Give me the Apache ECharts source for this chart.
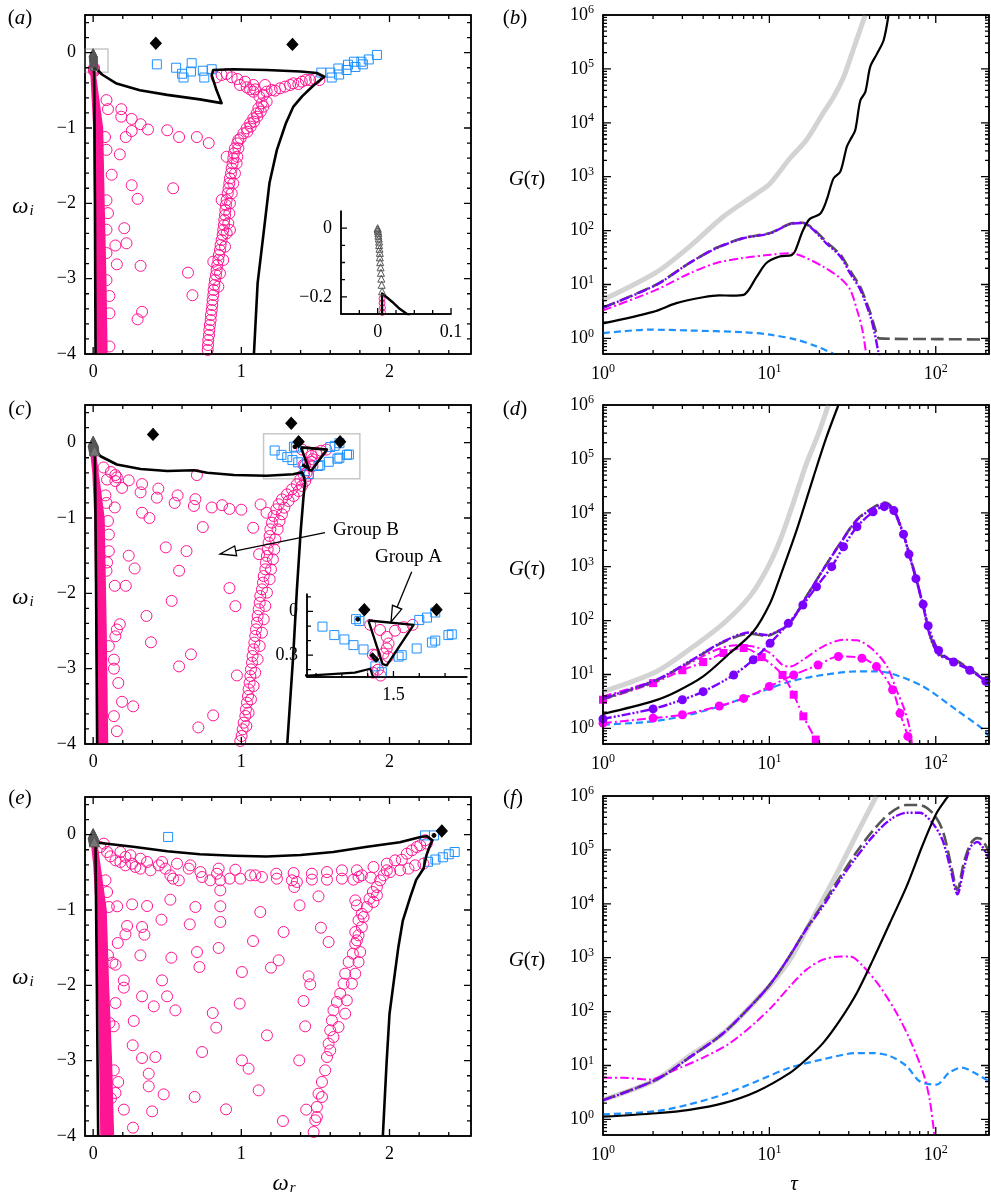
<!DOCTYPE html>
<html><head><meta charset="utf-8">
<script src="https://cdn.jsdelivr.net/npm/echarts@6/dist/echarts.min.js"></script>
<style>html,body{margin:0;padding:0;background:#fff}#c{width:991px;height:1197px}</style>
</head><body><div id="c"></div>
<script>
// ===================== DATA =====================
// ---- ticks ----
const sXMajor=[0,1,2], sXMinor=[0.2,0.4,0.6,0.8,1.2,1.4,1.6,1.8,2.2,2.4];
const sYMajor=[-4,-3,-2,-1,0], sYMinor=[-3.8,-3.6,-3.4,-3.2,-2.8,-2.6,-2.4,-2.2,-1.8,-1.6,-1.4,-1.2,-0.8,-0.6,-0.4,-0.2,0.2,0.4];
const tauMajor=[1,10,100], tauMinor=[2,3,4,5,6,7,8,9,20,30,40,50,60,70,80,90,200];
const gMajor=[1,10,100,1e3,1e4,1e5,1e6];
const gMinor=[0.6,0.7,0.8,0.9,2,3,4,5,6,7,8,9,20,30,40,50,60,70,80,90,200,300,400,500,600,700,800,900,2e3,3e3,4e3,5e3,6e3,7e3,8e3,9e3,2e4,3e4,4e4,5e4,6e4,7e4,8e4,9e4,2e5,3e5,4e5,5e5,6e5,7e5,8e5,9e5];

// ---- panel (a) ----
const pinkA=[[0.09,-0.63],[0.10,-0.75],[0.19,-0.75],[0.19,-0.85],[0.26,-0.88],[0.32,-0.95],[0.37,-1.02],[0.26,-1.04],[0.22,-1.12],[0.08,-1.12],[0.09,-1.29],[0.18,-1.35],[0.125,-1.62],[0.26,-1.76],[0.54,-1.80],[0.09,-1.96],[0.30,-1.94],[0.10,-2.13],[0.09,-2.35],[0.21,-2.33],[0.15,-2.56],[0.225,-2.53],[0.09,-2.66],[0.16,-2.81],[0.32,-2.83],[0.09,-3.02],[0.64,-2.92],[0.67,-3.22],[0.11,-3.23],[0.11,-3.46],[0.33,-3.44],[0.30,-3.54],[0.11,-3.9],[0.50,-1.03],[0.58,-1.12],[0.70,-1.12],[0.78,-1.2],
[0.901,-0.283],[0.973,-0.350],[1.025,-0.385],[1.081,-0.429],[1.092,-0.487],[1.160,-0.429],[1.081,-0.518],[1.122,-0.584],[1.171,-0.518],[1.205,-0.496],[1.227,-0.504],[1.261,-0.473],[1.295,-0.451],[1.329,-0.429],[1.351,-0.407],[1.385,-0.416],[1.408,-0.385],[1.435,-0.363],[1.464,-0.363],[1.498,-0.350],[1.527,-0.363],[0.833,-0.327],[0.867,-0.296],[0.935,-0.327],[1.036,-0.460],[0.991,-0.429],[1.059,-0.487],[1.149,-0.562]];
const pinkABand=[[1.137,-0.673],[1.115,-0.739],[1.104,-0.805],[1.081,-0.872],[1.059,-0.938],[1.036,-1.004],[1.014,-1.071],[0.995,-1.137],[0.973,-1.204],[0.957,-1.270],[0.950,-1.336],[0.946,-1.403],[0.941,-1.469],[0.935,-1.535],[0.930,-1.602],[0.923,-1.668],[0.919,-1.735],[0.914,-1.801],[0.908,-1.867],[0.901,-1.956],[0.896,-2.022],[0.892,-2.088],[0.890,-2.155],[0.885,-2.221],[0.883,-2.288],[0.878,-2.354],[0.874,-2.420],[0.867,-2.487],[0.860,-2.553],[0.856,-2.619],[0.849,-2.686],[0.845,-2.752],[0.838,-2.819],[0.833,-2.885],[0.829,-2.951],[0.822,-3.018],[0.818,-3.084],[0.813,-3.150],[0.811,-3.217],[0.806,-3.283],[0.804,-3.350],[0.800,-3.416],[0.795,-3.482],[0.793,-3.549],[0.788,-3.615],[0.784,-3.681],[0.782,-3.748],[0.777,-3.814],[0.775,-3.881],[0.773,-3.947],
[1.171,-0.650],[1.149,-0.717],[1.131,-0.783],[1.108,-0.850],[1.086,-0.916],[1.063,-0.982],[1.041,-1.049],[0.980,-1.159],[0.980,-1.270],[0.973,-1.381],[0.968,-1.469],[0.957,-1.602],[0.946,-1.735],[0.935,-1.867],[0.923,-2.000],[0.919,-2.133],[0.912,-2.265],[0.901,-2.398],[0.890,-2.575],[0.878,-2.752],[0.856,-2.929],[0.845,-3.106],[0.901,-1.381],[0.867,-1.956],[0.923,-2.354],[0.811,-2.774]];
const pinkATop=[[0.006,-0.205],[0.006,-0.218],[0.0065,-0.232],[0.0065,-0.245]];
const bandA=[[-0.02,-0.24],[0.016,-0.24],[0.068,-1],[0.078,-2],[0.09,-3],[0.098,-4],[0.018,-4],[0.0,-1]];
const triA=[[0.0,0.0],[0.0,-0.004],[0.0005,-0.009],[0.001,-0.015],[0.001,-0.022],[0.0015,-0.03],[0.002,-0.039],[0.002,-0.049],[0.0025,-0.06],[0.003,-0.072],[0.003,-0.085],[0.0035,-0.099],[0.004,-0.114],[0.0045,-0.13],[0.005,-0.147],[0.0055,-0.165],[0.006,-0.184]];
const blueA=[[0.43,-0.155],[0.56,-0.2],[0.60,-0.28],[0.61,-0.33],[0.665,-0.14],[0.66,-0.25],[0.74,-0.24],[0.75,-0.33],[0.80,-0.22],[1.54,-0.265],[1.60,-0.265],[1.61,-0.33],[1.655,-0.21],[1.66,-0.29],[1.71,-0.23],[1.72,-0.16],[1.76,-0.12],[1.77,-0.19],[1.81,-0.12],[1.82,-0.155],[1.86,-0.09],[1.915,-0.03]];
const diamA=[[0.423,0.124],[1.345,0.11]];
const contourA=[[0.016,-4],[0.012,-2],[0.008,-0.6],[0.006,-0.25],[0.006,-0.19],[0.02,-0.215],[0.03,-0.235],[0.04,-0.25],[0.06,-0.29],[0.158,-0.41],[0.315,-0.5],[0.5,-0.56],[0.72,-0.62],[0.867,-0.67],[0.833,-0.5],[0.81,-0.36],[0.80,-0.3],[0.81,-0.23],[0.946,-0.22],[1.17,-0.23],[1.40,-0.25],[1.51,-0.27],[1.56,-0.32],[1.49,-0.43],[1.41,-0.58],[1.35,-0.72],[1.30,-0.94],[1.24,-1.29],[1.19,-1.73],[1.15,-2.4],[1.11,-3.06],[1.085,-4]];
const boxA=[[-0.055,0.05],[0.1,-0.26]];

// ---- panel (b) ----
const grayB=[[1,5.2],[2.1,17],[3.3,50],[5.3,182],[8.4,490],[10.1,750],[13.3,2200],[16.7,4800],[21,1.5e4],[24.3,3e4],[27.9,7e4],[30.6,1.55e5],[33.6,3.6e5],[37.7,1e6]];
const blackB=[[1,1.9],[2,3.1],[2.76,4.5],[4,5.8],[5,6.3],[6,6.2],[7,6.4],[8.4,14],[9.6,25],[11.5,33],[13.6,35],[14.3,42],[15.9,100],[17.5,165],[20.2,205],[22.1,370],[24.3,930],[26.7,1240],[29.2,3600],[30.6,4800],[32.8,7300],[35.2,2.6e4],[37.7,3.7e4],[40.4,1.1e5],[44.3,1.9e5],[48.6,3.4e5],[52,1e6]];
const purpleB=[[1,3.7],[2.1,9.9],[3.3,25],[4.8,47],[6.95,72],[10.1,89],[13.3,132],[15.9,138],[18.4,103],[22,58],[26.7,33],[30.6,16],[35.2,8],[40.4,2.6],[42.9,1.26],[45,0.6],[46.3,0.45]];
const dashB=[[1,3.7],[2.1,10],[3.3,25],[4.8,48],[6.95,73],[10.1,90],[13.3,134],[15.9,140],[18.4,108],[22,62],[26.7,36],[30.6,18],[35.2,9],[40.4,3],[43.5,1.4],[45.5,1.0],[100,0.97],[208,0.95]];
const magB=[[1,3.3],[2.1,8],[3.3,16],[4.8,25],[6.95,31],[10.1,35.5],[13.3,38],[15.9,33],[21,21.5],[26.7,13],[30.6,8],[33.6,3.4],[36.2,1.45],[38.2,0.5]];
const blueB=[[1,1.25],[1.9,1.45],[3.3,1.4],[6.95,1.3],[10.1,1.17],[14.5,0.95],[19.2,0.71],[24.3,0.52]];

// ---- panel (c) ----
const pinkC=[[0.07,-0.33],[0.12,-0.39],[0.094,-0.49],[0.16,-0.46],[0.15,-0.51],[0.195,-0.6],[0.24,-0.5],[0.33,-0.55],[0.32,-0.66],[0.44,-0.61],[0.43,-0.73],[0.57,-0.7],[0.55,-0.8],[0.69,-0.75],[0.68,-0.84],[0.70,-0.43],[0.80,-0.86],[0.87,-0.83],[0.92,-0.88],[1.0,-0.89],[1.13,-0.82],[1.17,-0.93],[1.08,-1.13],[1.12,-1.48],[0.74,-1.12],[0.33,-0.93],[0.38,-1.0],[0.146,-0.86],[0.083,-0.7],[0.09,-0.8],[0.1,-1.04],[0.106,-1.22],[0.106,-1.44],[0.094,-1.59],[0.09,-1.7],[0.146,-1.9],[0.22,-1.9],[0.24,-1.5],[0.28,-1.67],[0.49,-1.39],[0.63,-1.44],[0.58,-1.7],[0.53,-2.1],[0.92,-1.93],[0.96,-2.17],[0.36,-2.3],[0.39,-2.65],[0.66,-2.81],[0.58,-2.97],[0.97,-3.09],[0.81,-3.62],[0.71,-3.78],[0.18,-2.41],[0.16,-2.48],[0.15,-2.57],[0.106,-2.7],[0.14,-2.88],[0.14,-3.0],[0.17,-3.19],[0.195,-3.44],[0.27,-3.5],[0.14,-3.63],[0.16,-3.83],[0.15,-0.43]];
const pinkCBand=[[1.398,-0.487],[1.375,-0.553],[1.342,-0.619],[1.308,-0.686],[1.274,-0.752],[1.252,-0.819],[1.236,-0.885],[1.218,-0.973],[1.207,-1.062],[1.196,-1.150],[1.191,-1.239],[1.184,-1.327],[1.178,-1.416],[1.173,-1.504],[1.166,-1.593],[1.162,-1.681],[1.151,-1.770],[1.146,-1.858],[1.139,-1.947],[1.128,-2.035],[1.124,-2.124],[1.117,-2.212],[1.110,-2.301],[1.106,-2.389],[1.099,-2.478],[1.094,-2.566],[1.088,-2.655],[1.083,-2.743],[1.076,-2.832],[1.072,-2.920],[1.065,-3.009],[1.061,-3.097],[1.056,-3.186],[1.049,-3.274],[1.045,-3.363],[1.038,-3.451],[1.031,-3.540],[1.027,-3.628],[1.016,-3.717],[1.009,-3.805],[1.002,-3.894],[0.993,-3.960],
[1.431,-0.509],[1.409,-0.575],[1.387,-0.642],[1.353,-0.708],[1.319,-0.774],[1.290,-0.863],[1.274,-0.951],[1.258,-1.040],[1.245,-1.150],[1.229,-1.283],[1.222,-1.416],[1.213,-1.549],[1.200,-1.681],[1.191,-1.814],[1.173,-1.991],[1.162,-2.168],[1.151,-2.345],[1.139,-2.522],[1.124,-2.699],[1.110,-2.876],[1.094,-3.053],[1.083,-3.230],[1.065,-3.407],[1.049,-3.584],[1.034,-3.761]];
const pinkCGroupA=[[1.41,-0.092],[1.448,-0.127],[1.474,-0.174],[1.481,-0.22],[1.474,-0.254],[1.461,-0.289],[1.43,-0.30],[1.539,-0.108],[1.506,-0.132],[1.574,-0.092],[1.48,-0.31],[1.42,-0.296],[1.44,-0.40],[1.45,-0.44],[1.42,-0.42]];
const bandC=[[-0.02,-0.13],[0.02,-0.13],[0.078,-1],[0.092,-2.5],[0.102,-4],[0.024,-4],[0.008,-1],[-0.006,-0.4]];
const triC=[[0.0,0.02],[0.0,0.012],[0.001,0.004],[0.002,-0.005],[0.003,-0.015],[0.004,-0.027],[0.005,-0.04],[0.006,-0.055],[0.007,-0.072],[0.008,-0.09],[0.009,-0.11]];
const blueC=[[1.225,-0.104],[1.271,-0.162],[1.31,-0.192],[1.345,-0.231],[1.384,-0.261],[1.355,-0.053],[1.368,-0.065],[1.43,-0.377],[1.455,-0.417],[1.52,-0.31],[1.532,-0.30],[1.59,-0.254],[1.649,-0.213],[1.662,-0.20],[1.713,-0.162],[1.726,-0.157],[1.60,-0.058],[1.63,-0.042],[1.662,-0.007]];
const diamC=[[0.404,0.11],[1.337,0.257],[1.387,0.012],[1.667,0.012]];
const dotC=[[1.362,-0.053]];
const contourC=[[0.027,-4],[0.02,-2],[0.014,-0.6],[0.011,-0.09],[0.05,-0.18],[0.16,-0.29],[0.32,-0.35],[0.5,-0.376],[0.68,-0.367],[0.77,-0.4],[0.95,-0.43],[1.17,-0.44],[1.35,-0.42],[1.41,-0.393],[1.422,-0.455],[1.43,-0.53],[1.42,-0.71],[1.40,-1.19],[1.375,-1.95],[1.35,-2.83],[1.31,-4]];
const loopC1=[[1.403,-0.062],[1.578,-0.092],[1.585,-0.102],[1.474,-0.37],[1.458,-0.362],[1.403,-0.062]];
const loopC2=[[1.416,-0.285],[1.44,-0.33],[1.432,-0.342],[1.41,-0.295]];
const boxC=[[1.15,0.12],[1.80,-0.48]];

// ---- panel (d) ----
const grayD=[[1,4.8],[2.1,11.4],[3.3,29],[5.3,89],[7.6,277],[9.6,870],[11.6,3100],[13.9,1.5e4],[16.7,8.2e4],[19.7,2.9e5],[22.6,1e6]];
const blackD=[[1,1.85],[2,3.2],[2.76,4.8],[4,9.2],[5.8,25],[8,62],[10.1,210],[11.6,650],[14.6,4800],[18.4,4.6e4],[22,2.5e5],[26,1e6]];
const purpleD1=[[1,3.6],[2.1,8],[3.3,17.4],[5.3,41],[7.6,60],[9.6,54],[11.6,67],[13.3,89],[16.7,277],[21,870],[26.7,2700],[33.6,7300],[42,1.2e4],[49.6,1.5e4],[55.6,1.1e4],[63.6,4100],[72.7,1000],[84,182],[92.6,50],[104,23],[116,20],[133,17.4],[162,12],[185,9],[208,6.9]];
const dashD=[[1,3.5],[2.1,7.8],[3.3,17],[5.3,40],[7.6,57],[9.6,52],[11.6,66],[13.3,90],[16.7,280],[21,880],[26.7,2750],[33.6,7500],[42,1.25e4],[49.6,1.55e4],[55.6,1.15e4],[63.6,4200],[72.7,1050],[84,190],[92.6,52],[104,24],[116,21],[133,18],[162,12.5],[185,9.3],[208,7]];
const purpleD2=[[1,1.5],[2,2.3],[3,3.4],[4,4.8],[6.1,9.8],[8,18.7],[10.1,38],[13,89],[15.9,195],[19.2,425],[23.7,1000],[27.9,2340],[33.6,5500],[42,1.04e4],[49,1.3e4],[56,1.1e4],[64,4000],[69,1700],[76,600],[84,200],[90,80],[104,28],[128,17],[160,12],[200,7.5]];
const magD1=[[1,3.9],[2.1,8],[3.3,16],[4.8,28.7],[6.3,35],[8,33],[10.1,25],[12,15],[13.3,14],[15.9,18.7],[21,33],[27.9,44],[33.6,43],[42,28.7],[51,14],[58,5.2],[65,2.2],[70,0.95],[72,0.5]];
const magDSq=[[1,3.4],[2,6.9],[3,12],[4,17],[5.3,25],[7,31],[9,21],[12,9.8],[14,4.2],[16,1.67],[19,0.62]];
const magDCi=[[1,1.25],[2,1.55],[3,1.79],[5,2.6],[7,3.6],[10,6],[14,9.8],[19.6,15],[26,21.6],[36,20],[44,14],[55,5.2],[61,1.9],[68,0.71],[70,0.5]];
const blueD=[[1,1.17],[2,1.35],[3.3,1.79],[5.3,2.7],[8.4,4.5],[13.3,7.4],[21,9.8],[33.6,11.4],[42,11.4],[53,10.6],[84,6],[133,2.2],[193,0.95],[208,0.71]];

// ---- panel (e) ----
const pinkE=[[0.094,-0.230],[0.117,-0.288],[0.151,-0.341],[0.184,-0.230],[0.184,-0.363],[0.218,-0.296],[0.252,-0.274],[0.218,-0.407],[0.263,-0.385],[0.319,-0.319],[0.364,-0.363],[0.319,-0.451],[0.387,-0.473],[0.443,-0.407],[0.465,-0.363],[0.488,-0.451],[0.521,-0.540],[0.539,-0.584],[0.566,-0.385],[0.578,-0.606],[0.645,-0.451],[0.656,-0.407],[0.724,-0.496],[0.735,-0.562],[0.791,-0.606],[0.836,-0.518],[0.847,-0.451],[0.858,-0.606],[0.921,-0.584],[0.960,-0.465],[0.993,-0.584],[1.061,-0.540],[1.094,-0.540],[1.139,-0.562],[1.236,-0.518],[1.240,-0.584],[1.353,-0.509],[1.342,-0.606],[1.375,-0.628],[1.357,-0.695],[1.476,-0.518],[1.476,-0.597],[1.578,-0.496],[1.578,-0.597],[1.679,-0.473],[1.679,-0.584],[1.757,-0.597],[1.780,-0.473],[1.791,-0.562],[1.813,-0.540],[1.874,-0.571],[1.892,-0.429],[1.982,-0.385],[1.982,-0.473],[2.038,-0.341],[2.072,-0.473],[2.083,-0.332],[2.117,-0.252],[2.128,-0.451],[2.151,-0.208],[2.173,-0.407],[2.184,-0.164],[2.207,-0.142],[2.229,-0.385],[2.240,-0.075],[2.252,-0.119],[0.049,-0.164],[0.072,-0.119],[0.285,-0.429],
[0.162,-0.951],[0.263,-0.925],[0.364,-0.947],[0.521,-0.863],[0.461,-1.128],[0.229,-1.212],[0.218,-1.323],[0.166,-1.438],[0.330,-1.226],[0.346,-1.327],[0.319,-1.602],[0.528,-1.633],[0.465,-1.934],[0.499,-2.146],[0.409,-2.279],[0.555,-2.332],[0.330,-2.146],[0.274,-2.473],[0.267,-2.796],[0.330,-2.965],[0.420,-2.951],[0.375,-3.173],[0.375,-3.341],[0.476,-3.447],[0.398,-3.673],[0.269,-3.889],[0.207,-3.650],[0.151,-3.429],[0.169,-3.283],[0.139,-3.128],[0.207,-1.934],[0.207,-2.031],[0.151,-2.235],[0.139,-2.544],[0.151,-1.726],[0.690,-0.96],[0.652,-1.190],[0.701,-1.558],[0.717,-1.757],[0.847,-1.504],[0.858,-1.159],[0.858,-0.951],[0.858,-0.739],[1.004,-1.823],[0.989,-2.243],[0.807,-2.367],[0.831,-2.562],[0.735,-2.885],[1.004,-2.996],[1.049,-3.106],[0.685,-3.482],[0.897,-3.646],[1.117,-3.394],[1.173,-2.664],[1.128,-1.027],[1.079,-1.412],[1.200,-1.765],[1.252,-1.668],[1.285,-1.292],[1.393,-0.938],[1.521,-0.819],[1.537,-1.235],[1.589,-1.425],[1.454,-1.881],[1.465,-1.987],[1.420,-2.208],[1.431,-2.544],[1.391,-2.996],[1.281,-3.801],[1.438,-3.650],[0.094,-0.761],[0.106,-0.960],[0.083,-0.606],[0.1,-1.6],[0.11,-2.5],[0.12,-3.5],[0.1,-3.9],[0.13,-1.7]];
const pinkEBand=[[1.960,-0.540],[1.937,-0.606],[1.915,-0.695],[1.888,-0.761],[1.865,-0.850],[1.847,-0.960],[1.825,-1.093],[1.813,-1.226],[1.791,-1.336],[1.769,-1.447],[1.753,-1.580],[1.724,-1.690],[1.701,-1.845],[1.690,-1.978],[1.667,-2.111],[1.645,-2.221],[1.622,-2.332],[1.611,-2.465],[1.600,-2.597],[1.589,-2.774],[1.578,-2.951],[1.566,-3.128],[1.544,-3.283],[1.521,-3.438],[1.510,-3.615],[1.499,-3.792],[1.488,-3.947],
[2.004,-0.496],[1.915,-0.805],[1.892,-0.894],[1.769,-0.872],[1.780,-0.938],[1.813,-1.049],[1.791,-1.137],[1.769,-1.292],[1.780,-1.403],[1.802,-1.558],[1.791,-1.690],[1.769,-1.845],[1.746,-1.978],[1.712,-2.199],[1.701,-2.376],[1.656,-2.553],[1.622,-2.686],[1.600,-2.863],[1.544,-3.482],[1.510,-3.748]];
const bandE=[[-0.015,-0.12],[0.03,-0.12],[0.092,-1],[0.108,-2],[0.128,-3],[0.142,-4],[0.048,-4],[0.032,-2],[0.018,-1],[0.0,-0.4]];
const triE=[[0.0,0.015],[0.0,0.008],[0.001,0.0],[0.002,-0.01],[0.003,-0.02],[0.004,-0.032],[0.005,-0.045],[0.006,-0.06],[0.007,-0.077],[0.008,-0.095]];
const blueE=[[0.506,-0.03],[2.24,-0.01],[2.30,-0.01],[2.26,-0.36],[2.31,-0.33],[2.36,-0.30],[2.40,-0.26],[2.44,-0.23]];
const diamE=[[2.353,0.05]];
const dotE=[[2.30,-0.01]];
const contourE=[[0.034,-4],[0.025,-2],[0.018,-0.6],[0.016,-0.1],[0.05,-0.11],[0.27,-0.16],[0.5,-0.22],[0.72,-0.26],[0.95,-0.28],[1.17,-0.29],[1.40,-0.27],[1.62,-0.23],[1.85,-0.16],[2.07,-0.1],[2.21,-0.03],[2.25,-0.02],[2.29,-0.075],[2.27,-0.16],[2.25,-0.27],[2.23,-0.45],[2.18,-0.6],[2.14,-0.83],[2.09,-1.14],[2.06,-1.49],[2.03,-1.93],[2.0,-2.38],[1.98,-3.04],[1.955,-4]];

// ---- panel (f) ----
const grayF=[[1,2.3],[2.1,5.5],[3.3,15],[5.3,40],[8.4,166],[10.4,340],[13.3,920],[16.7,3300],[21,1.2e4],[26.7,4.9e4],[33.6,2e5],[44,1e6]];
const dashF=[[1,2.3],[2.1,5.5],[3.3,14],[5.3,40],[8.4,166],[10.4,360],[13.3,1100],[16.7,3500],[21,1e4],[26.7,3.2e4],[33.6,9.3e4],[42,2.3e5],[53,4.8e5],[66.8,6.8e5],[80,6.8e5],[96,4.8e5],[110,2.3e5],[123,5.6e4],[135,1.8e4],[147,5.6e4],[162,1.3e5],[178,1.65e5],[190,1.55e5],[208,9.3e4]];
const purpleF=[[1,2.25],[2.1,5.5],[3.3,14],[5.3,40],[8.4,166],[10.4,360],[13.3,1100],[16.7,3400],[21,9e3],[26.7,2.8e4],[33.6,7.6e4],[42,1.8e5],[53,3.6e5],[66.8,4.9e5],[80,4.9e5],[96,3.1e5],[110,1.5e5],[123,4.3e4],[135,1.5e4],[147,4.3e4],[162,1.15e5],[178,1.4e5],[208,7e4]];
const magF=[[1,5.9],[1.32,5.9],[1.9,5.5],[2.76,8.5],[4,14],[5.8,26],[8.4,66],[10.4,125],[13.3,295],[16.7,600],[21,920],[26.7,1050],[30.6,1050],[36.6,690],[46,295],[58,95],[70,30],[84,7.3],[92,2.3],[98,0.52]];
const blackF=[[1,1.12],[2.1,1.3],[3.3,1.5],[5.3,2.0],[8.4,3.3],[13.3,7.3],[16.7,13],[21,26],[26.7,71],[33.6,224],[42,920],[53,4400],[66.8,2.1e4],[84,1.3e5],[101,4.8e5],[119,1e6]];
const blueF=[[1,1.24],[2.1,1.42],[3.3,1.9],[5.3,2.9],[8.4,5.1],[13.3,9.1],[21,13],[33.6,17],[42,17],[53,15],[66.8,9.7],[80,5.1],[101,4.4],[120,7.3],[143,9.1],[171,7.3],[208,5.1]];

// ===================== BUILD =====================
const FONT='"Liberation Serif","DejaVu Serif",serif';
const PINK='#ff1493', BLUE='#1e90ff', PURPLE='#7b00ff', MAG='#ff00ff', LGRAY='#d3d3d3', DGRAY='#555555';
const grids=[],xAxes=[],yAxes=[],series=[],graphics=[],panels=[];
const L10=v=>Math.log10(v);
const fmtS=v=>{const r=Math.round(v*1000)/1000;return r<0?'\u2212'+(-r):''+r;};
const fmtL=v=>'{b|10}{s|'+Math.round(v)+'}';
const richL={b:{fontFamily:FONT,fontSize:18,color:'#000',lineHeight:22},s:{fontFamily:FONT,fontSize:12,color:'#000',verticalAlign:'top',lineHeight:12}};

function mkAxis(gi,pos,ext,labels,fmt,rich){
  return {type:'value',gridIndex:gi,position:pos,min:ext[0],max:ext[1],
    axisLine:{show:true,onZero:false,lineStyle:{color:'#000',width:1.6}},
    axisTick:{show:false},
    axisLabel:labels?{show:true,customValues:labels,formatter:fmt,rich:rich,fontFamily:FONT,fontSize:18,color:'#000',margin:9,hideOverlap:false}:{show:false},
    splitLine:{show:false},minorTick:{show:false},minorSplitLine:{show:false},splitArea:{show:false},silent:true};
}
function panel(c){
  const gi=grids.length;
  grids.push({left:c.l,top:c.t,width:c.w,height:c.h,show:false,containLabel:false});
  const xi=xAxes.length, yi=yAxes.length;
  xAxes.push(mkAxis(gi,'bottom',c.x,c.xL,c.fx,c.rich));
  yAxes.push(mkAxis(gi,'left',c.y,c.yL,c.fy,c.rich));
  if(c.box){
    xAxes.push(mkAxis(gi,'top',c.x,null));
    yAxes.push(mkAxis(gi,'right',c.y,null));
  }
  c.xi=xi; c.yi=yi; panels.push(c);
  return {xi,yi,log:!!c.log};
}
const tr=(P,d)=>P.log?d.map(p=>[L10(p[0]),L10(p[1])]):d;
function scat(P,d,o){series.push({type:'scatter',xAxisIndex:P.xi,yAxisIndex:P.yi,data:tr(P,d),symbol:o.sym||'circle',symbolSize:o.size,
  itemStyle:{color:o.fill||'rgba(0,0,0,0)',borderColor:o.stroke||o.fill,borderWidth:o.bw==null?1:o.bw,opacity:1},z:o.z||3,silent:true,clip:true,emphasis:{disabled:true},markArea:o.markArea});}
function line(P,d,o){series.push({type:'line',xAxisIndex:P.xi,yAxisIndex:P.yi,data:tr(P,d),showSymbol:!!o.sym,symbol:o.sym||'none',symbolSize:o.size||7,
  itemStyle:{color:o.color},lineStyle:{color:o.color,width:o.w,type:o.dash||'solid',cap:'butt',join:'round'},z:o.z||4,silent:true,clip:true,smooth:o.smooth||false,emphasis:{disabled:true}});}
function poly(P,d,color,z){series.push({type:'custom',xAxisIndex:P.xi,yAxisIndex:P.yi,data:d,clip:true,z:z||2,silent:true,
  renderItem:(params,api)=>{if(params.dataIndex!==0)return null;return {type:'polygon',shape:{points:d.map(p=>api.coord(p))},style:{fill:color}};}});}
function box(b){return {silent:true,itemStyle:{color:'rgba(0,0,0,0)',borderColor:'#c8c8c8',borderWidth:1.5},data:[[{coord:b[0]},{coord:b[1]}]]};}

const sExt={x:[-0.055,2.55],y:[-4,0.5],xT:sXMajor,xm:sXMinor,yT:sYMajor,ym:sYMinor,xL:sXMajor,yL:sYMajor,fx:fmtS,fy:fmtS,L:7,m:4,box:true};
const lExt={log:true,x:[0,2.32],y:[-0.29,6],xT:tauMajor.map(L10),xm:tauMinor.map(L10),yT:gMajor.map(L10),ym:gMinor.map(L10),xL:tauMajor.map(L10),yL:gMajor.map(L10),fx:fmtL,fy:fmtL,rich:richL,L:8,m:4,box:true};

const PA=panel(Object.assign({l:85,t:15,w:386,h:339},sExt));
const PB=panel(Object.assign({l:603,t:15,w:386,h:339},lExt));
const PC=panel(Object.assign({l:85,t:405,w:386,h:339},sExt));
const PD=panel(Object.assign({l:603,t:405,w:386,h:339},lExt));
const PE=panel(Object.assign({l:85,t:797,w:386,h:339},sExt));
const PF=panel(Object.assign({l:603,t:796,w:386,h:339},lExt));
const IA=panel({l:341,t:211,w:110,h:103,x:[-0.05,0.1],y:[-0.25,0.05],xT:[0,0.1],xm:[-0.025,0.025,0.05,0.075],yT:[0,-0.2],ym:[-0.05,-0.1,-0.15],xL:[0,0.1],yL:[0,-0.2],fx:fmtS,fy:fmtS,L:6,m:4,box:false});
const IC=panel({l:307,t:594,w:160,h:83,x:[1.165,1.785],y:[-0.45,0.12],xT:[1.5],xm:[1.2,1.3,1.4,1.6,1.7],yT:[0,-0.3],ym:[0.1,-0.1,-0.2,-0.4],xL:[1.5],yL:[0,-0.3],fx:v=>v.toFixed(1),fy:v=>v===0?'0':Math.abs(v).toFixed(1),L:6,m:4,box:false});

// (a)
poly(PA,bandA,PINK,2);
scat(PA,pinkA,{size:11,stroke:PINK,z:3});
scat(PA,pinkABand,{size:11,stroke:PINK,z:3});
scat(PA,pinkATop,{size:11,stroke:PINK,z:3});
scat(PA,blueA,{sym:'rect',size:9,stroke:BLUE,z:3});
line(PA,contourA,{color:'#000',w:2.6,z:5});
scat(PA,diamA,{sym:'diamond',size:[11,12],fill:'#000',z:6});
scat(PA,triA,{sym:'triangle',size:8,stroke:DGRAY,z:7,markArea:box(boxA)});
// inset a
scat(IA,pinkATop,{size:6,stroke:PINK,z:3});
line(IA,contourA,{color:'#000',w:2.4,z:5});
scat(IA,triA,{sym:'triangle',size:7,stroke:DGRAY,z:7});

// (b)
line(PB,grayB,{color:LGRAY,w:5,z:2,smooth:0.3});
line(PB,blueB,{color:BLUE,w:2.2,dash:[7,4],z:3,smooth:0.3});
line(PB,magB,{color:MAG,w:2,dash:[9,3,2,3],z:4,smooth:0.3});
line(PB,dashB,{color:DGRAY,w:2.6,dash:[13,5],z:5,smooth:0.2});
line(PB,purpleB,{color:PURPLE,w:2.4,dash:[9,2,2,2,2,2],z:6,smooth:0.3});
line(PB,blackB,{color:'#000',w:2.2,z:7,smooth:0.3});

// (c)
poly(PC,bandC,PINK,2);
scat(PC,pinkC,{size:11,stroke:PINK,z:3});
scat(PC,pinkCBand,{size:11,stroke:PINK,z:3});
scat(PC,pinkCGroupA,{size:11,stroke:PINK,z:3});
scat(PC,blueC,{sym:'rect',size:9,stroke:BLUE,z:3});
line(PC,contourC,{color:'#000',w:2.6,z:5});
line(PC,loopC1,{color:'#000',w:2.6,z:5});
line(PC,loopC2,{color:'#000',w:2.6,z:5});
scat(PC,diamC,{sym:'diamond',size:[11,12],fill:'#000',z:6});
scat(PC,dotC,{size:4,fill:'#000',z:6});
scat(PC,triC,{sym:'triangle',size:10,stroke:DGRAY,fill:'#777',z:7,markArea:box(boxC)});
// inset c
scat(IC,pinkCBand,{size:11,stroke:PINK,z:3});
scat(IC,pinkCGroupA,{size:11,stroke:PINK,z:3});
scat(IC,blueC,{sym:'rect',size:9,stroke:BLUE,z:3});
line(IC,contourC,{color:'#000',w:2.2,z:5});
line(IC,loopC1,{color:'#000',w:2.4,z:5});
line(IC,loopC2,{color:'#000',w:2.4,z:5});
scat(IC,diamC,{sym:'diamond',size:[11,12],fill:'#000',z:6});
scat(IC,dotC,{size:4,fill:'#000',z:6});

// (d)
line(PD,grayD,{color:LGRAY,w:5,z:2,smooth:0.3});
line(PD,blueD,{color:BLUE,w:2.2,dash:[7,4],z:3,smooth:0.3});
line(PD,magD1,{color:MAG,w:2,dash:[9,3,2,3],z:4,smooth:0.3});
line(PD,magDSq,{color:MAG,w:2,dash:[9,3,2,3],z:4,smooth:0.3,sym:'rect',size:8});
line(PD,magDCi,{color:MAG,w:2,dash:[9,3,2,3],z:4,smooth:0.3,sym:'circle',size:9});
line(PD,dashD,{color:DGRAY,w:2.6,dash:[13,5],z:5,smooth:0.3});
line(PD,purpleD1,{color:PURPLE,w:2.4,dash:[9,2,2,2,2,2],z:6,smooth:0.3});
line(PD,purpleD2,{color:PURPLE,w:2.4,dash:[9,2,2,2,2,2],z:6,smooth:0.3,sym:'circle',size:9});
line(PD,blackD,{color:'#000',w:2.2,z:7,smooth:0.3});

// (e)
poly(PE,bandE,PINK,2);
scat(PE,pinkE,{size:11,stroke:PINK,z:3});
scat(PE,pinkEBand,{size:11,stroke:PINK,z:3});
scat(PE,blueE,{sym:'rect',size:9,stroke:BLUE,z:3});
line(PE,contourE,{color:'#000',w:2.6,z:5});
scat(PE,diamE,{sym:'diamond',size:[11,12],fill:'#000',z:6});
scat(PE,dotE,{size:4,fill:'#000',z:6});
scat(PE,triE,{sym:'triangle',size:10,stroke:DGRAY,fill:'#777',z:7});

// (f)
line(PF,grayF,{color:LGRAY,w:5,z:2,smooth:0.3});
line(PF,blueF,{color:BLUE,w:2.2,dash:[7,4],z:3,smooth:0.3});
line(PF,magF,{color:MAG,w:2,dash:[9,3,2,3],z:4,smooth:0.3});
line(PF,dashF,{color:DGRAY,w:2.6,dash:[13,5],z:5,smooth:0.3});
line(PF,purpleF,{color:PURPLE,w:2.4,dash:[9,2,2,2,2,2],z:6,smooth:0.3});
line(PF,blackF,{color:'#000',w:2.2,z:7,smooth:0.3});

// ---- text overlays ----
const RT={n:{fontFamily:FONT,fontSize:21,color:'#000'},i:{fontFamily:FONT,fontSize:21,fontStyle:'italic',color:'#000'},
  w:{fontFamily:FONT,fontSize:23,fontStyle:'italic',color:'#000',lineHeight:24},
  sub:{fontFamily:FONT,fontSize:15,fontStyle:'italic',color:'#000',verticalAlign:'bottom',lineHeight:15,padding:[6,0,0,1]},
  g:{fontFamily:FONT,fontSize:19,color:'#000'}};
function gtext(x,y,text,align){graphics.push({type:'text',x:x,y:y,z:100,silent:true,style:{text:text,rich:RT,align:align||'center',verticalAlign:'middle',fill:'#000'}});}
[['a',20,18],['b',515,18],['c',20,409],['d',515,409],['e',20,798],['f',513,798]].forEach(p=>gtext(p[1],p[2],'{n|(}{i|'+p[0]+'}{n|)}'));
[207,598,978].forEach(y=>gtext(23,y,'{w|ω}{sub|i}'));
[179,569,960].forEach(y=>gtext(527,y,'{i|G}{n|(}{i|τ}{n|)}'));
gtext(284,1184,'{w|ω}{sub|r}');
gtext(794,1184,'{i|τ}');
gtext(333,530,'{g|Group B}','left');
gtext(375,557,'{g|Group A}','left');
function arrow(x1,y1,x2,y2){const dx=x2-x1,dy=y2-y1,Ln=Math.hypot(dx,dy),ux=dx/Ln,uy=dy/Ln,hl=16,hw=5,bx=x2-ux*hl,by=y2-uy*hl;
  graphics.push({type:'line',z:100,silent:true,shape:{x1:x1,y1:y1,x2:bx,y2:by},style:{stroke:'#000',lineWidth:1.3}});
  graphics.push({type:'polygon',z:100,silent:true,shape:{points:[[x2,y2],[bx-uy*hw,by+ux*hw],[bx+uy*hw,by-ux*hw]]},style:{fill:'#fff',stroke:'#000',lineWidth:1.3}});}
arrow(325,532.7,220,554);
arrow(411.7,571.7,391,622);

// ---- inward frame ticks: one polyline per panel tracing the frame with a short excursion at every tick ----
panels.forEach(c=>{
  const X=v=>c.l+(v-c.x[0])/(c.x[1]-c.x[0])*c.w;
  const Y=v=>c.t+c.h-(v-c.y[0])/(c.y[1]-c.y[0])*c.h;
  const bot=c.t+c.h, top=c.t, lft=c.l, rgt=c.l+c.w;
  const xs=c.xT.map(v=>[v,c.L]).concat(c.xm.map(v=>[v,c.m])).sort((a,b)=>a[0]-b[0]);
  const ys=c.yT.map(v=>[v,c.L]).concat(c.ym.map(v=>[v,c.m])).sort((a,b)=>a[0]-b[0]);
  const pts=[];
  if(c.box){
    pts.push([lft,bot]);
    xs.forEach(([v,n])=>{const p=X(v);pts.push([p,bot],[p,bot-n],[p,bot]);}); pts.push([rgt,bot]);
    ys.forEach(([v,n])=>{const p=Y(v);pts.push([rgt,p],[rgt-n,p],[rgt,p]);}); pts.push([rgt,top]);
    xs.slice().reverse().forEach(([v,n])=>{const p=X(v);pts.push([p,top],[p,top+n],[p,top]);}); pts.push([lft,top]);
    ys.slice().reverse().forEach(([v,n])=>{const p=Y(v);pts.push([lft,p],[lft+n,p],[lft,p]);}); pts.push([lft,bot]);
  } else {
    pts.push([lft,top]);
    ys.slice().reverse().forEach(([v,n])=>{const p=Y(v);pts.push([lft,p],[lft+n,p],[lft,p]);}); pts.push([lft,bot]);
    xs.forEach(([v,n])=>{const p=X(v);pts.push([p,bot],[p,bot-n],[p,bot]);}); pts.push([rgt,bot]);
  }
  graphics.push({type:'polyline',z:90,silent:true,shape:{points:pts},style:{stroke:'#000',fill:null,lineWidth:1.3,lineJoin:'bevel'}});
});

const chart=echarts.init(document.getElementById('c'),null,{renderer:'canvas',width:991,height:1197});
chart.setOption({animation:false,backgroundColor:'#fff',textStyle:{fontFamily:FONT},grid:grids,xAxis:xAxes,yAxis:yAxes,series:series,graphic:graphics});
</script></body></html>
